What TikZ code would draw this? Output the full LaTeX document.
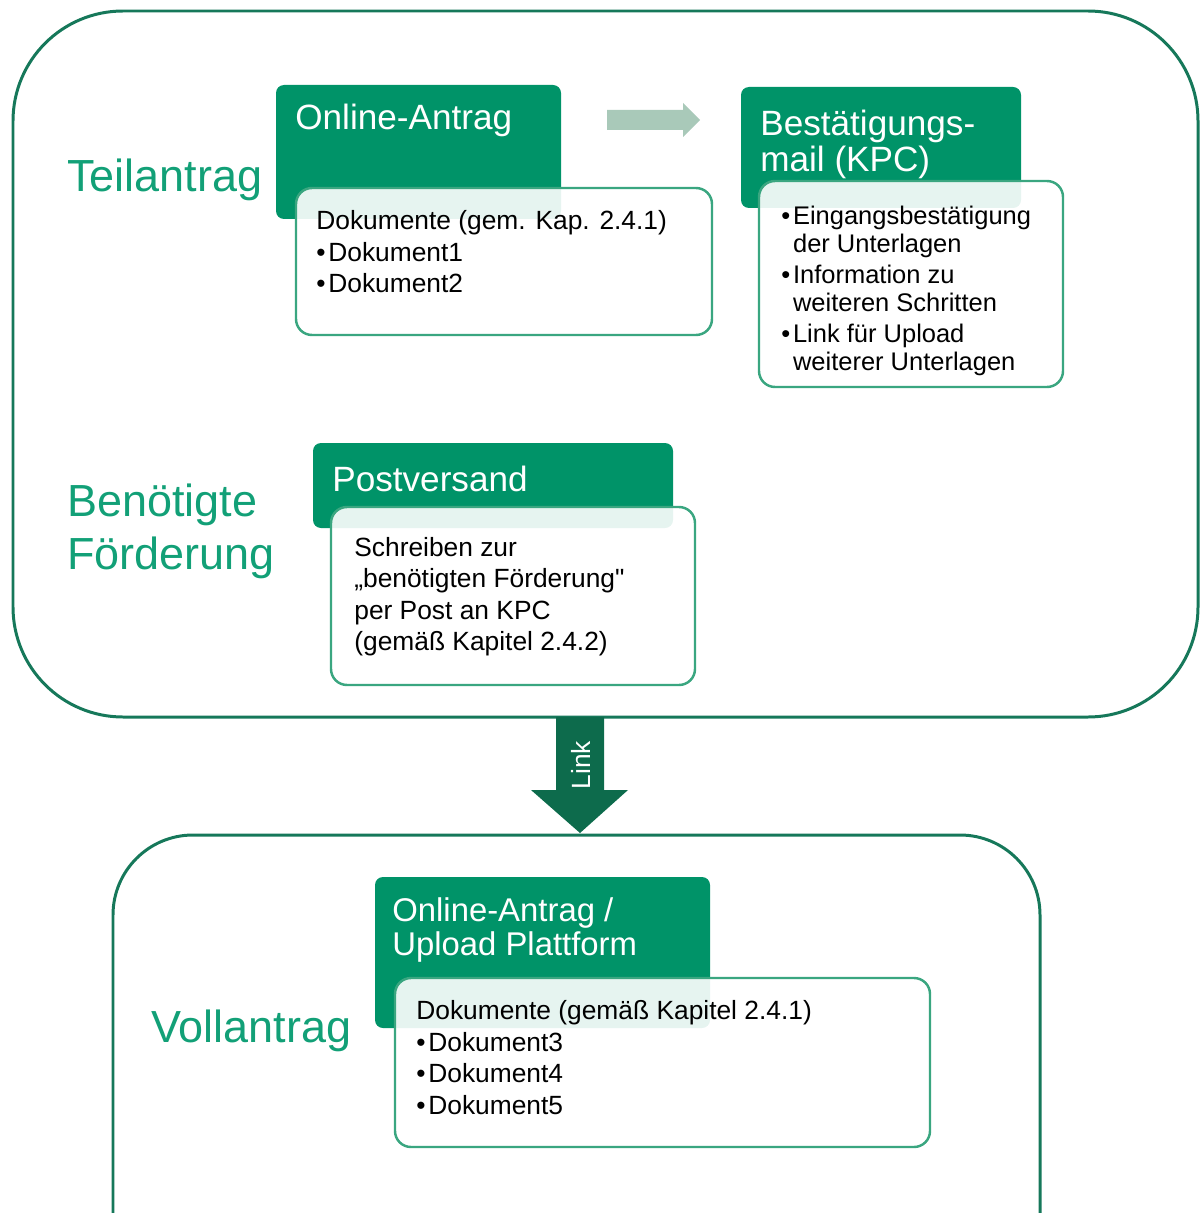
\documentclass[tikz,border=0pt]{standalone}
\usepackage{fontspec}
\setmainfont{Liberation Sans}[Ligatures=TeXOff]
\usepackage{tikz}

\definecolor{kgreen}{HTML}{009368}
\definecolor{kline}{HTML}{16785A}
\definecolor{kdark}{HTML}{0D6B4C}
\definecolor{kbox}{HTML}{3AA680}
\definecolor{klabel}{HTML}{12A077}
\definecolor{kpale}{HTML}{A9C9B9}

\newcommand{\bul}{•\kern1.6pt}

\begin{document}
\begin{tikzpicture}[x=0.02cm, y=-0.02cm,
  outer/.style={draw=kline, line width=1.7pt},
  hdr/.style={fill=kgreen, rounded corners=0.16cm},
  cbox/.style={draw=kbox, line width=1.4pt, fill=white, fill opacity=0.9, rounded corners=0.32cm},
  lbl/.style={text=klabel, font=\fontsize{25.6}{30}\selectfont, align=left, inner sep=0pt, anchor=north west},
  htxt/.style={text=white, font=\fontsize{20}{20.4}\selectfont, align=left, inner sep=0pt, anchor=north west},
  btxt/.style={text=black, font=\fontsize{15}{18}\selectfont, align=left, inner sep=0pt, anchor=north west}]
  \clip (0,0) rectangle (1200,1213);
  \useasboundingbox (0,0) rectangle (1200,1213);
  % outer frames
  \draw[outer, rounded corners=2.2cm] (13,11) rectangle (1198,717);
  \draw[outer, rounded corners=1.6cm] (113,835) rectangle (1040,1300);
  \node[lbl] (teil) at (67,159) {Teilantrag};
  \node[lbl] (benoe) at (67,484) {Benötigte\\Förderung};
  \node[lbl] (voll) at (151,1010) {Vollantrag};
  % Online-Antrag
  \fill[hdr] (276,85) rectangle (561,219);
  \node[htxt] (online) at (295,104) {Online-Antrag};
  \draw[cbox] (296,188) rectangle (712,335);
  \node[btxt] (doka) at (316,210) {Dokumente (gem. Kap. 2.4.1)\\\bul Dokument1\\\bul Dokument2};
  % Bestaetigungsmail
  \fill[hdr] (741,87) rectangle (1021,208);
  \node[htxt] (mail) at (760,110) {Bestätigungs-\\mail (KPC)};
  \draw[cbox] (759,181) rectangle (1063,387);
  \node[btxt, font=\fontsize{14.5}{15.9}\selectfont] (mailtxt) at (781,206)
    {\bul Eingangsbestätigung\\\phantom{\bul}der Unterlagen\\[1.7pt]
     \bul Information zu\\\phantom{\bul}weiteren Schritten\\[1.7pt]
     \bul Link für Upload\\\phantom{\bul}weiterer Unterlagen};
  \coordinate (pfeilA) at (607,120);
  \coordinate (pfeilB) at (700,120);
  \fill[kpale] (pfeilA) ++(0,-10) -- ++(76,0) -- ++(0,-7) -- (pfeilB) -- ++(-17,17) -- ++(0,-7) -- ++(-76,0) -- cycle;
  % Postversand
  \fill[hdr] (313,443) rectangle (673,528);
  \node[htxt] (post) at (332,466) {Postversand};
  \draw[cbox] (331,507) rectangle (695,685);
  \node[btxt, font=\fontsize{15}{17.9}\selectfont] (posttxt) at (354,537)
    {Schreiben zur\\„benötigten Förderung"\\per Post an KPC\\(gemäß Kapitel 2.4.2)};
  % Link
  \coordinate (linktop) at (580,717);
  \coordinate (linktip) at (580,833);
  \fill[kdark] (linktop) ++(-24,0) -- ++(48,0) -- ++(0,73) -- ++(24,0) -- (linktip) -- ++(-49,-43) -- ++(25,0) -- cycle;
  \node[text=white, font=\fontsize{15}{18}\selectfont, rotate=90, inner sep=0pt] (link) at (581,765) {Link};
  % Vollantrag
  \fill[hdr] (375,877) rectangle (710,1028);
  \node[htxt, font=\fontsize{18.7}{19.3}\selectfont] (upload) at (392,897) {Online-Antrag /\\Upload Plattform};
  \draw[cbox] (395,978) rectangle (930,1147);
  \node[btxt] (dokd) at (416,1000) {Dokumente (gemäß Kapitel 2.4.1)\\\bul Dokument3\\\bul Dokument4\\\bul Dokument5};
\end{tikzpicture}
\end{document}
